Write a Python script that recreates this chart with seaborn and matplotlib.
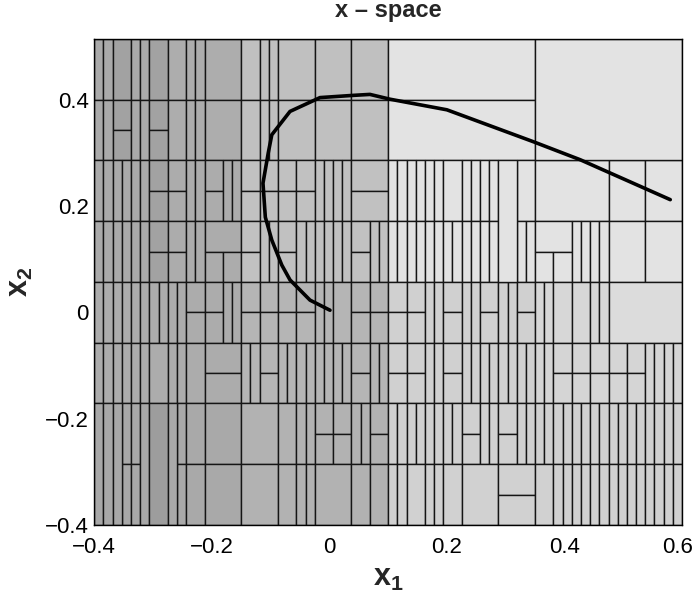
import matplotlib
matplotlib.use("Agg")
import matplotlib.pyplot as plt
import matplotlib.transforms as mtransforms
import pandas as pd
import seaborn as sns

# ---- partition of the state space -------------------------------------
# cell edges along x1 are given as indices on a 1/64 grid over [-0.4, 0.6]
X_MIN = -0.4
X_STEP = 1.0 / 64
# row edges along x2, from the top row down
Y_EDGES = [0.5143, 0.4, 0.2857, 0.1714, 0.0571, -0.0571, -0.1714, -0.2857, -0.4]

# each row: runs of ('F' full height | 'H' split in halves | 'T' top half | 'B' bottom half, edges)
ROW0 = [('F', [0, 1, 2, 4, 5, 6, 8, 10, 11, 12, 16, 18, 19, 20, 24, 28, 32, 48])]
ROW1 = [('F', [0, 1, 2]), ('H', [2, 4]), ('F', [4, 5, 6]), ('H', [6, 8]),
        ('F', [8, 10, 11, 12, 16, 18, 19, 20, 24, 28, 32, 48])]
ROW2 = [('F', [0, 1, 2, 3, 4, 5, 6]), ('H', [6, 8, 10]), ('F', [10, 11, 12]), ('H', [12, 14]),
        ('F', [14, 15, 16]), ('H', [16, 18, 20, 22, 24]), ('F', [24, 25, 26, 27, 28]), ('H', [28, 32]),
        ('F', [32, 33, 34, 35, 36, 37, 38, 40, 41, 42, 43, 44]), ('F', [46, 48, 56, 60, 64])]
ROW3 = [('F', [0, 1, 2, 3, 4, 5, 6]), ('H', [6, 8, 10]), ('F', [10, 11, 12]), ('T', [12, 16]),
        ('B', [12, 14, 16]), ('H', [16, 18]), ('F', [18, 19, 20]), ('H', [20, 22]),
        ('F', [22, 23, 24, 25, 26, 27, 28]), ('H', [28, 30]),
        ('F', [30, 31, 32, 33, 34, 35, 36, 37, 38, 39, 40, 41, 42, 43, 44]), ('F', [46, 47, 48]),
        ('T', [48, 52]), ('B', [48, 50, 52]), ('F', [52, 53, 54, 55, 56, 60, 64])]
ROW4 = [('F', [0, 1, 2, 3, 4, 5, 6, 7, 8, 9, 10]), ('H', [10, 12, 14]), ('F', [14, 15, 16]),
        ('H', [16, 18, 20, 22, 24]), ('F', [24, 25, 26, 28]), ('H', [28, 30, 32, 34, 36]),
        ('F', [36, 37, 38]), ('H', [38, 40]), ('F', [40, 41, 42]), ('H', [42, 44]),
        ('F', [44, 45, 46]), ('H', [46, 48]), ('F', [48, 49, 50, 52, 54, 55, 56, 64])]
ROW5 = [('F', [0, 1, 2, 3, 4, 5, 6, 8, 9, 10, 12]), ('H', [12, 16]), ('F', [16, 17, 18]),
        ('H', [18, 20]), ('F', [20, 21, 22, 23, 24, 25, 26, 27, 28]), ('H', [28, 30]),
        ('F', [30, 31, 32]), ('H', [32, 34, 36]), ('F', [36, 37, 38]), ('H', [38, 40]),
        ('F', [40, 41, 42, 43, 44, 45, 46, 47, 48, 49, 50]), ('H', [50, 52, 54, 56, 58, 60]),
        ('F', [60, 61, 62, 63, 64])]
ROW6 = [('F', [3, 4, 5]), ('F', [9, 10, 12, 16, 20, 22, 23, 24]), ('H', [24, 26, 28]),
        ('F', [28, 29, 30]), ('H', [30, 32]), ('F', [32, 33, 34, 35, 36, 37, 38, 39, 40]),
        ('H', [40, 42]), ('F', [42, 43, 44]), ('H', [44, 46]),
        ('F', [46, 47, 48, 49, 50, 51, 52, 53, 54, 55, 56, 57, 58, 59, 60, 61, 62, 63, 64])]
ROW7 = [('F', [3, 4, 5]),
        ('F', [9, 10, 12, 16, 20, 22, 23, 24, 28, 30, 32, 33, 34, 36, 37, 38, 40, 44]),
        ('H', [44, 48]),
        ('F', [48, 50, 51, 52, 53, 54, 55, 56, 57, 58, 59, 60, 61, 62, 63, 64])]
ROWS = [ROW0, ROW1, ROW2, ROW3, ROW4, ROW5, ROW6, ROW7]

# cells covering more than one row: (k0, k1, first row, last row)
SPANS = [(48, 64, 0, 1), (44, 46, 2, 3),
         (0, 1, 6, 7), (1, 2, 6, 7), (2, 3, 6, 7), (5, 6, 6, 7), (6, 8, 6, 7), (8, 9, 6, 7)]

# grey level of the cells per row, as (k upper bound, colour)
SHADE_01 = [(2, '#aaaaaa'), (4, '#a2a2a2'), (6, '#aaaaaa'), (8, '#a2a2a2'),
            (16, '#adadad'), (32, '#c0c0c0'), (64, '#e3e3e3')]
SHADE_23 = [(6, '#aaaaaa'), (8, '#a2a2a2'), (16, '#acacac'), (32, '#c1c1c1'), (64, '#e3e3e3')]
SHADE_4 = [(16, '#acacac'), (32, '#b5b5b5'), (48, '#d0d0d0'), (56, '#d7d7d7'), (64, '#dcdcdc')]
SHADE_5 = [(16, '#acacac'), (32, '#b5b5b5'), (48, '#d0d0d0'), (64, '#d5d5d5')]
SHADE_67 = [(6, '#a8a8a8'), (8, '#9d9d9d'), (16, '#a9a9a9'), (32, '#b2b2b2'), (64, '#d1d1d1')]
SHADES = [SHADE_01, SHADE_01, SHADE_23, SHADE_23, SHADE_4, SHADE_5, SHADE_67, SHADE_67]

# closed-loop trajectory
TRAJ_X = [0.580, 0.427, 0.347, 0.200, 0.103, 0.069, 0.038, -0.016, -0.067,
          -0.098, -0.104, -0.113, -0.109, -0.098, -0.081, -0.067, -0.033, 0.001]
TRAJ_Y = [0.212, 0.287, 0.321, 0.381, 0.401, 0.410, 0.408, 0.404, 0.378,
          0.334, 0.300, 0.243, 0.179, 0.136, 0.089, 0.061, 0.023, 0.004]

X_TICKS = [-0.4, -0.2, 0, 0.2, 0.4, 0.6]
X_TICK_LABELS = ['\u22120.4', '\u22120.2', '0', '0.2', '0.4', '0.6']
Y_TICKS = [-0.4, -0.2, 0, 0.2, 0.4]
Y_TICK_LABELS = ['\u22120.4', '\u22120.2', '0', '0.2', '0.4']


def shade(row, k0, k1):
    mid = 0.5 * (k0 + k1)
    for bound, colour in SHADES[row]:
        if mid <= bound:
            return colour
    return SHADES[row][-1][1]


# collect every cell as a rectangle record
records = []
for r, runs in enumerate(ROWS):
    top, bot = Y_EDGES[r], Y_EDGES[r + 1]
    mid = 0.5 * (top + bot)
    for kind, edges in runs:
        for k0, k1 in zip(edges[:-1], edges[1:]):
            parts = {'F': [(bot, top)], 'H': [(mid, top), (bot, mid)],
                     'T': [(mid, top)], 'B': [(bot, mid)]}[kind]
            for y0, y1 in parts:
                records.append((k0, k1, y0, y1, shade(r, k0, k1)))
for k0, k1, r0, r1 in SPANS:
    records.append((k0, k1, Y_EDGES[r1 + 1], Y_EDGES[r0], shade(r0, k0, k1)))

cells = pd.DataFrame(records, columns=['k0', 'k1', 'y0', 'y1', 'grey'])
cells['x0'] = X_MIN + cells['k0'] * X_STEP
cells['w'] = (cells['k1'] - cells['k0']) * X_STEP
cells['h'] = cells['y1'] - cells['y0']

traj = pd.DataFrame({'x1': TRAJ_X, 'x2': TRAJ_Y})

sns.set_theme(style='white')
plt.rcParams['font.family'] = ['Liberation Sans', 'DejaVu Sans']
plt.rcParams['mathtext.fontset'] = 'custom'
plt.rcParams['mathtext.rm'] = 'Liberation Sans'
plt.rcParams['mathtext.bf'] = 'Liberation Sans:bold'

fig = plt.figure(figsize=(6.96, 5.93), dpi=100)
ax = fig.add_axes([0.1355, 0.1147, 0.8444, 0.8196])

ax.bar(cells['x0'], cells['h'], width=cells['w'], bottom=cells['y0'], align='edge',
       color=cells['grey'], edgecolor='#151515', linewidth=1.0, zorder=1)

sns.lineplot(data=traj, x='x1', y='x2', sort=False, estimator=None, color='black',
             linewidth=2.6, ax=ax, zorder=3)

ax.set_xlim(-0.4, 0.6)
ax.set_ylim(-0.4, 0.5143)
ax.set_xticks(X_TICKS)
ax.set_xticklabels(X_TICK_LABELS)
ax.set_yticks(Y_TICKS)
ax.set_yticklabels(Y_TICK_LABELS)
ax.tick_params(axis='x', length=0, labelsize=16, colors='black', pad=9)
ax.tick_params(axis='y', length=0, labelsize=16, colors='black', pad=4)

# keep the rightmost x label inside the figure
last = ax.get_xticklabels()[-1]
last.set_transform(last.get_transform() +
                   mtransforms.ScaledTranslation(-4 / 100, 0, fig.dpi_scale_trans))

ax.set_xlabel(r'$\mathbf{x_1}$', fontsize=22, labelpad=3)
ax.set_ylabel(r'$\mathbf{x_2}$', fontsize=22, labelpad=7)
ax.set_title('x \u2013 space', fontsize=17, fontweight='bold', pad=16)

for s in ax.spines.values():
    s.set_color('black')
    s.set_linewidth(1.0)
    s.set_visible(True)

fig.savefig('out.png', dpi=100)
